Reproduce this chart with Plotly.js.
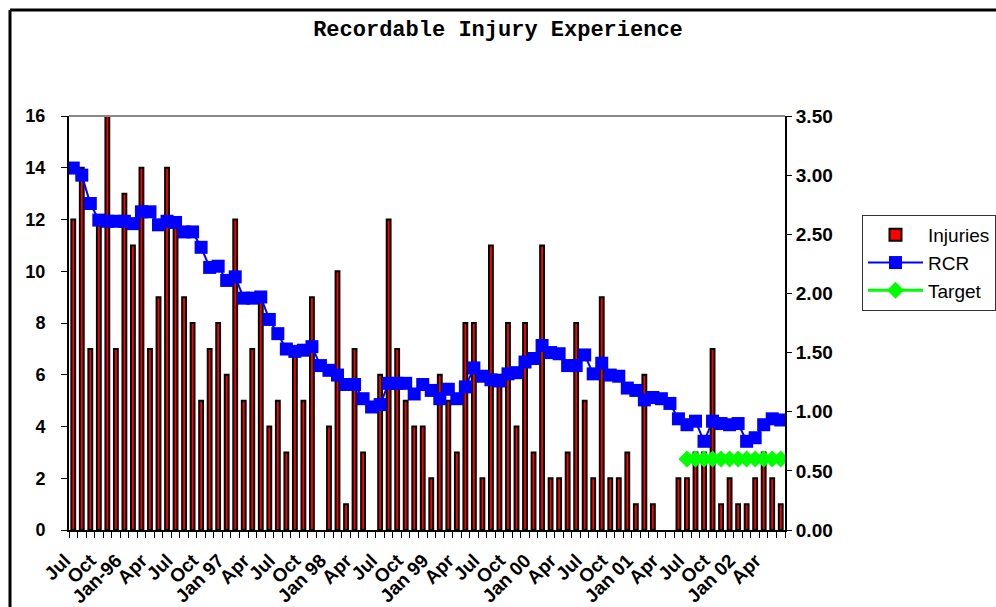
<!DOCTYPE html>
<html>
<head>
<meta charset="utf-8">
<script src="https://cdn.plot.ly/plotly-3.0.1.min.js"></script>
<style>
  html, body { margin: 0; padding: 0; background: #fff; }
  #chart { width: 996px; height: 607px; }
</style>
</head>
<body>
<div id="chart"></div>
<script>
// Monthly categories Jul 1995 .. Jun 2002
var months = [
  "1995-07","1995-08","1995-09","1995-10","1995-11","1995-12",
  "1996-01","1996-02","1996-03","1996-04","1996-05","1996-06",
  "1996-07","1996-08","1996-09","1996-10","1996-11","1996-12",
  "1997-01","1997-02","1997-03","1997-04","1997-05","1997-06",
  "1997-07","1997-08","1997-09","1997-10","1997-11","1997-12",
  "1998-01","1998-02","1998-03","1998-04","1998-05","1998-06",
  "1998-07","1998-08","1998-09","1998-10","1998-11","1998-12",
  "1999-01","1999-02","1999-03","1999-04","1999-05","1999-06",
  "1999-07","1999-08","1999-09","1999-10","1999-11","1999-12",
  "2000-01","2000-02","2000-03","2000-04","2000-05","2000-06",
  "2000-07","2000-08","2000-09","2000-10","2000-11","2000-12",
  "2001-01","2001-02","2001-03","2001-04","2001-05","2001-06",
  "2001-07","2001-08","2001-09","2001-10","2001-11","2001-12",
  "2002-01","2002-02","2002-03","2002-04","2002-05","2002-06"
];

var injuries = [
  12,14,7,12,16,7,13,11,14,7,9,14,
  12,9,8,5,7,8,6,12,5,7,9,4,
  5,3,7,5,9,0,4,10,1,7,3,0,
  6,12,7,5,4,4,2,6,5,3,8,8,
  2,11,6,8,4,8,3,11,2,2,3,8,
  5,2,9,2,2,3,1,6,1,0,0,2,
  2,3,3,7,1,2,1,1,2,3,2,1
];

var rcr = [
  3.06,3.00,2.76,2.62,2.61,2.61,2.61,2.59,2.69,2.69,2.58,2.61,
  2.60,2.52,2.52,2.39,2.22,2.23,2.11,2.14,1.96,1.96,1.97,1.78,
  1.66,1.53,1.51,1.52,1.55,1.39,1.35,1.31,1.23,1.23,1.11,1.04,
  1.06,1.24,1.24,1.24,1.15,1.23,1.18,1.11,1.19,1.11,1.21,1.37,
  1.30,1.27,1.26,1.32,1.33,1.42,1.45,1.56,1.50,1.49,1.39,1.39,
  1.48,1.32,1.41,1.31,1.30,1.20,1.18,1.10,1.12,1.11,1.07,0.94,
  0.89,0.92,0.75,0.92,0.90,0.89,0.90,0.75,0.78,0.89,0.94,0.93
];

// Target applies to Jul 2001 .. Jun 2002
var targetMonths = ["2001-07","2001-08","2001-09","2001-10","2001-11","2001-12",
                    "2002-01","2002-02","2002-03","2002-04","2002-05","2002-06"];
var targetValues = [0.60,0.60,0.60,0.60,0.60,0.60,0.60,0.60,0.60,0.60,0.60,0.60];

// X tick labels (every 3 months)
var tickMonths = ["1995-07","1995-10","1996-01","1996-04","1996-07","1996-10",
  "1997-01","1997-04","1997-07","1997-10","1998-01","1998-04","1998-07","1998-10",
  "1999-01","1999-04","1999-07","1999-10","2000-01","2000-04","2000-07","2000-10",
  "2001-01","2001-04","2001-07","2001-10","2002-01","2002-04"];
var tickLabels = ["Jul","Oct","Jan-96","Apr","Jul","Oct","Jan 97","Apr","Jul","Oct",
  "Jan 98","Apr","Jul","Oct","Jan 99","Apr","Jul","Oct","Jan 00","Apr","Jul","Oct",
  "Jan 01","Apr","Jul","Oct","Jan 02","Apr"];

var idx = function (m) { return months.indexOf(m); };
var xAll = months.map(function (m, i) { return i; });

// ticks on every category boundary; labels on the boundaries of labelled months
var boundaryVals = months.map(function (m, i) { return i - 0.5; }).concat([months.length - 0.5]);
var boundaryText = boundaryVals.map(function (v, i) {
  var k = tickMonths.indexOf(months[i]);
  return k >= 0 ? tickLabels[k] : "";
});

var FONT = "Liberation Sans, Arial, sans-serif";

var traces = [
  {
    type: "bar", name: "Injuries", x: xAll,
    y: injuries.map(function (v) { return v === 0 ? null : v; }),
    marker: { color: "#ff0000", line: { color: "#000000", width: 2 } },
    yaxis: "y", xaxis: "x"
  },
  {
    type: "scatter", mode: "lines+markers", name: "RCR", x: xAll, y: rcr,
    line: { color: "#0000ff", width: 2 },
    marker: { symbol: "square", size: 13, color: "#0000ff" },
    yaxis: "y2", xaxis: "x"
  },
  {
    type: "scatter", mode: "lines+markers", name: "Target",
    x: targetMonths.map(idx), y: targetValues,
    line: { color: "#00ff00", width: 3 },
    marker: { symbol: "diamond", size: 13, color: "#00ff00" },
    yaxis: "y2", xaxis: "x"
  }
];

var layout = {
  width: 996, height: 607,
  margin: { l: 69, r: 211, t: 116, b: 77, pad: 0, autoexpand: false },
  paper_bgcolor: "#ffffff", plot_bgcolor: "#ffffff",
  bargap: 0.55,
  showlegend: true,
  title: {
    text: "Recordable Injury Experience",
    font: { family: "Liberation Mono, Courier New, monospace", size: 22, color: "#000", weight: 700 },
    x: 0.5, xref: "container", xanchor: "center",
    y: 1 - 28 / 607, yref: "container", yanchor: "middle"
  },
  font: { family: FONT, color: "#000" },
  xaxis: {
    range: [-0.5, months.length - 0.5],
    tickmode: "array",
    tickvals: boundaryVals,
    ticktext: boundaryText,
    tickangle: -45,
    ticks: "outside", ticklen: 6, tickcolor: "#000", tickwidth: 1,
    ticklabelstandoff: 4,
    ticklabelshift: -4,
    tickfont: { family: FONT, size: 19, weight: 700, color: "#000" },
    showgrid: false, zeroline: false,
    showline: true, linecolor: "#000", linewidth: 2,
    fixedrange: true
  },
  yaxis: {
    range: [0, 16], tickmode: "linear", tick0: 0, dtick: 2,
    ticks: "outside", ticklen: 6, tickcolor: "#000", tickwidth: 1,
    ticklabelstandoff: 12,
    tickfont: { family: FONT, size: 18, weight: 700, color: "#000" },
    showgrid: false, zeroline: false,
    showline: true, linecolor: "#000", linewidth: 2
  },
  yaxis2: {
    overlaying: "y", side: "right", anchor: "x",
    range: [0, 3.5], tickmode: "linear", tick0: 0, dtick: 0.5, tickformat: ".2f",
    ticks: "outside", ticklen: 5, tickcolor: "#000", tickwidth: 1,
    tickfont: { family: FONT, size: 19, weight: 700, color: "#000" },
    showgrid: false, zeroline: false,
    showline: true, linecolor: "#000", linewidth: 2
  },
  legend: {
    x: (862 - 69) / 716, y: (530 - 215) / 414, xanchor: "left", yanchor: "top",
    bgcolor: "#ffffff", bordercolor: "#333", borderwidth: 1,
    font: { family: FONT, size: 19, color: "#000" },
    itemwidth: 55, traceorder: "normal"
  },
  shapes: [
    // gray top edge of plot area
    { type: "line", xref: "paper", yref: "paper", x0: 0, x1: 1, y0: 1, y1: 1,
      line: { color: "#888", width: 2 } },
    // outer chart frame (top and left edges)
    { type: "line", xref: "paper", yref: "paper",
      x0: (10 - 69) / 716, x1: (1000 - 69) / 716, y0: (530 - 10) / 414, y1: (530 - 10) / 414,
      line: { color: "#000", width: 3 } },
    { type: "line", xref: "paper", yref: "paper",
      x0: (10 - 69) / 716, x1: (10 - 69) / 716, y0: (530 - 10) / 414, y1: (530 - 610) / 414,
      line: { color: "#000", width: 3 } }
  ]
};

Plotly.newPlot("chart", traces, layout, { displayModeBar: false, staticPlot: true });
</script>
</body>
</html>
